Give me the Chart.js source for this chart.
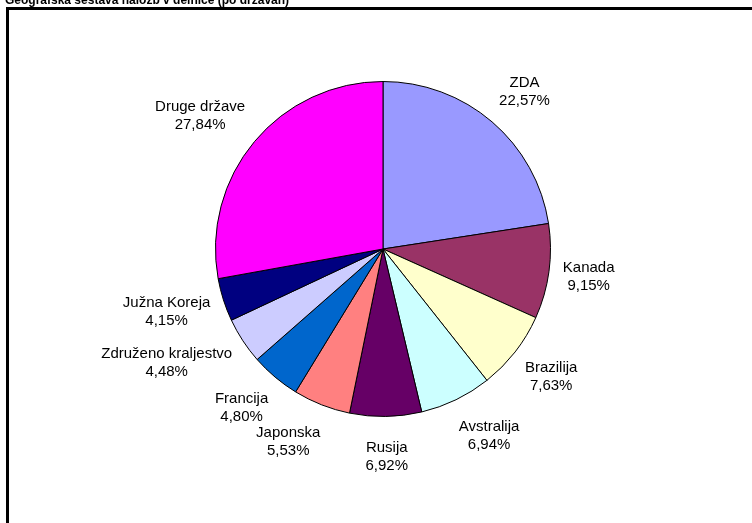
<!DOCTYPE html>
<html>
<head>
<meta charset="utf-8">
<script src="https://cdn.jsdelivr.net/npm/chart.js@4.4.1/dist/chart.umd.min.js"></script>
<style>
  html, body { margin: 0; padding: 0; background: #fff; }
  #wrap { width: 752px; height: 523px; position: relative; }
</style>
</head>
<body>
<div id="wrap"><canvas id="geoChart"></canvas></div>
<script>
// Podatki (odstotki po državah)
const countries = ['ZDA', 'Kanada', 'Brazilija', 'Avstralija', 'Rusija', 'Japonska', 'Francija', 'Združeno kraljestvo', 'Južna Koreja', 'Druge države'];
const shares = [22.57, 9.15, 7.63, 6.94, 6.92, 5.53, 4.80, 4.48, 4.15, 27.84];
const sliceColors = ['#9999FF', '#993366', '#FFFFCC', '#CCFFFF', '#660066', '#FF8080', '#0066CC', '#CCCCFF', '#000080', '#FF00FF'];
const chartTitle = 'Geografska sestava naložb v delnice (po državah)';

const FONT = '15px "Liberation Sans", Arial, sans-serif';

// okvir + naslov (naslov je odrezan na vrhu, kot v originalu)
const framePlugin = {
    id: 'frame',
    beforeDraw(chart) {
        const c = chart.ctx;
        c.save();
        c.fillStyle = '#fff';
        c.fillRect(0, 0, chart.width, chart.height);
        c.strokeStyle = '#000';
        c.lineWidth = 3;
        c.beginPath();
        c.moveTo(7.5, chart.height + 5);
        c.lineTo(7.5, 8.5);
        c.lineTo(chart.width + 5, 8.5);
        c.stroke();
        c.fillStyle = '#000';
        c.font = 'bold 12px "Liberation Sans", Arial, sans-serif';
        c.textBaseline = 'alphabetic';
        c.textAlign = 'left';
        c.fillText(chartTitle, 5, 4);
        c.restore();
    }
};

// oznake zunaj rezin: ime + odstotek
const outsideLabels = {
    id: 'outsideLabels',
    afterDatasetsDraw(chart) {
        const c = chart.ctx;
        const meta = chart.getDatasetMeta(0);
        const lineH = 18;
        c.save();
        c.font = FONT;
        c.fillStyle = '#000';
        c.textAlign = 'center';
        c.textBaseline = 'middle';
        meta.data.forEach((arc, i) => {
            const mid = (arc.startAngle + arc.endAngle) / 2;
            const cos = Math.cos(mid), sin = Math.sin(mid);
            const pct = shares[i].toFixed(2).replace('.', ',') + '%';
            const w = Math.max(c.measureText(countries[i]).width, c.measureText(pct).width);
            // vodoravni zamik skoraj neodvisen od kota (kot v Excelu)
            const sx = Math.sign(cos) * Math.min(1, Math.abs(cos) * 3) * (w / 2 - 6);
            const cx = arc.x + (arc.outerRadius + 20) * cos + sx;
            const cy = arc.y + (arc.outerRadius + 22) * sin + sin * lineH;
            c.fillText(countries[i], cx, cy - lineH / 2);
            c.fillText(pct, cx, cy + lineH / 2);
        });
        c.restore();
    }
};

new Chart(document.getElementById('geoChart'), {
    type: 'pie',
    data: {
        labels: countries,
        datasets: [{
            data: shares,
            backgroundColor: sliceColors,
            borderColor: '#000',
            borderWidth: 1
        }]
    },
    options: {
        responsive: true,
        maintainAspectRatio: false,
        animation: false,
        layout: { padding: { top: 81, bottom: 106, left: 215, right: 201 } },
        plugins: {
            legend: { display: false },
            tooltip: { enabled: false }
        }
    },
    plugins: [framePlugin, outsideLabels]
});
</script>
</body>
</html>
